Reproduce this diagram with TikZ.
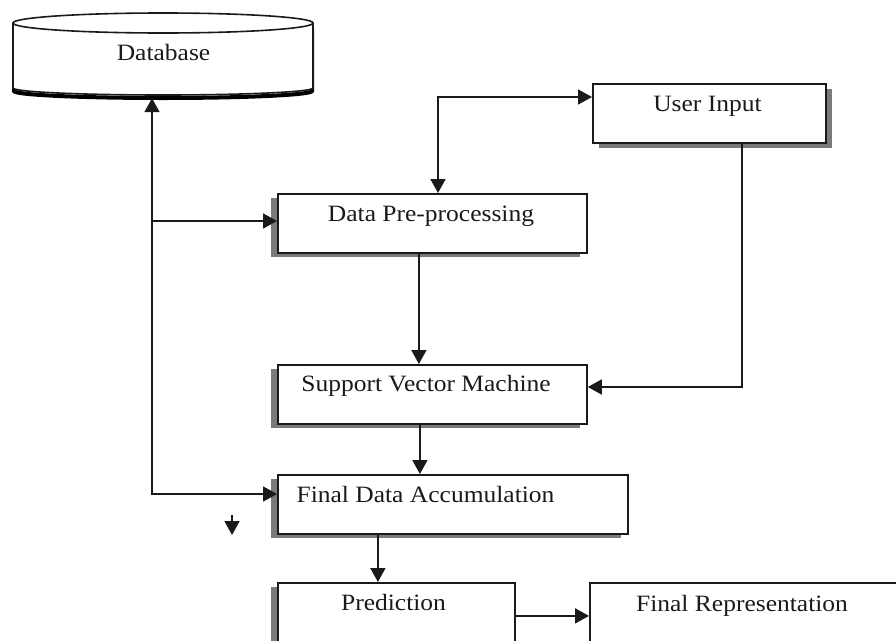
\documentclass[tikz,border=0pt]{standalone}
\usepackage{fontspec}
\setmainfont{Liberation Serif}[FakeStretch=1.09]
\usetikzlibrary{arrows.meta,shadows}
\definecolor{ink}{HTML}{1A1A1A}
\definecolor{shade}{HTML}{7A7A7A}
\tikzset{
  box/.style={draw=ink, line width=1.8pt, fill=white, rectangle, anchor=north west, inner sep=0pt},
  lshade/.style={drop shadow={shadow xshift=-7pt, shadow yshift=-4pt, fill=shade, opacity=1}},
  rshade/.style={drop shadow={shadow xshift=6pt, shadow yshift=-5pt, fill=shade, opacity=1}},
  lbl/.style={anchor=base, inner sep=0pt, font=\fontsize{23.4}{28}\selectfont, text=ink},
  flow/.style={draw=ink, line width=1.8pt, -{Triangle[length=14pt,width=15pt]}},
  twoway/.style={draw=ink, line width=1.8pt, {Triangle[length=14pt,width=15pt]}-{Triangle[length=14pt,width=15pt]}},
}
\begin{document}
\begin{tikzpicture}[x=1pt,y=-1pt]
\clip (0,0) rectangle (896,640);
\fill[white] (0,0) rectangle (896,640);

% database cylinder
\node[minimum width=300pt, minimum height=85pt, inner sep=0pt] (db) at (163,55.5) {};
\draw[shade, line width=4pt] (14,30) -- (14,91) arc[start angle=180, end angle=360, x radius=149pt, y radius=7pt] -- (312,30);
\fill[white] (13,23) -- (13,88) arc[start angle=180, end angle=360, x radius=150pt, y radius=7pt] -- (313,23) -- cycle;
\draw[ink, line width=1.6pt] (13,23) -- (13,88) arc[start angle=180, end angle=360, x radius=150pt, y radius=7pt] -- (313,23);
\draw[ink, line width=1.6pt, fill=white] (163,23) ellipse[x radius=150pt, y radius=10pt];
\node[lbl] (db-t) at (163.5,60) {Database};

% process boxes
\node[box, rshade, minimum width=233pt, minimum height=59pt] (ui) at (592,83) {};
\node[box, lshade, minimum width=309pt, minimum height=59pt] (dpp) at (277,193) {};
\node[box, lshade, minimum width=309pt, minimum height=59pt] (svm) at (277,364) {};
\node[box, lshade, minimum width=350pt, minimum height=59pt] (fda) at (277,474) {};
\node[box, lshade, minimum width=237pt, minimum height=80pt] (pred) at (277,582) {};
\node[box, rshade, minimum width=340pt, minimum height=80pt] (fr) at (589,582) {};

\node[lbl] (ui-t) at (707.5,111) {User Input};
\node[lbl] (dpp-t) at (431,221) {Data Pre-processing};
\node[lbl] (svm-t) at (426,391) {Support Vector Machine};
\node[lbl] (fda-t) at (425.5,502) {Final Data Accumulation};
\node[lbl] (pred-t) at (393.5,610) {Prediction};
\node[lbl] (fr-t) at (742,611) {Final Representation};

% bend points of the connectors
\coordinate (bus) at (152,494);
\coordinate (tap) at (152,221);
\coordinate (loop) at (438,97);
\coordinate (uibend) at (742,387);
\coordinate (lone-top) at (232,515);
\coordinate (lone-tip) at (232,535);

% connectors
\draw[twoway] (db.south -| bus) -- (bus) -- (fda.west |- bus);
\draw[flow] (tap) -- (tap -| dpp.west);
\draw[twoway] (dpp.north -| loop) -- (loop) -- (loop -| ui.west);
\draw[flow] ([xshift=-13.5pt]dpp.south) -- ([xshift=-13.5pt]dpp.south |- svm.north);
\draw[flow] (ui.south -| uibend) -- (uibend) -- (uibend -| svm.east);
\draw[flow] ([xshift=-12.5pt]svm.south) -- ([xshift=-12.5pt]svm.south |- fda.north);
\draw[flow] ([xshift=-18.5pt]pred.north |- fda.south) -- ([xshift=-18.5pt]pred.north);
\draw[flow] ([yshift=7pt]pred.east) -- ([yshift=7pt]pred.east -| fr.west);
\draw[flow] (lone-top) -- (lone-tip);
\end{tikzpicture}
\end{document}
